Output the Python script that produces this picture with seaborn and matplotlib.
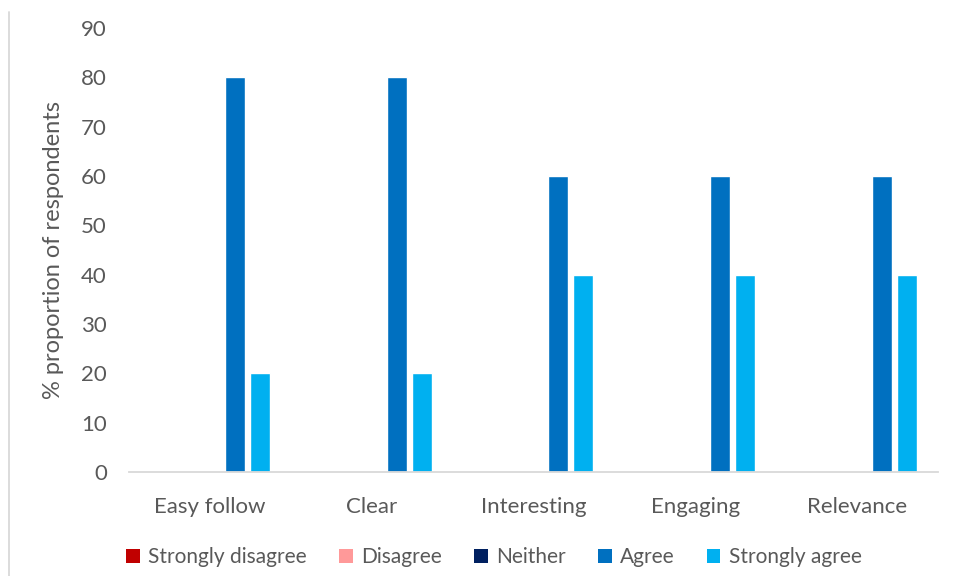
import matplotlib
matplotlib.use("Agg")
import matplotlib.pyplot as plt
import seaborn as sns
import pandas as pd
from matplotlib.lines import Line2D
from matplotlib.patches import Patch

# Survey responses per statement (% of respondents)
categories = ["Easy follow", "Clear", "Interesting", "Engaging", "Relevance"]
responses = ["Strongly disagree", "Disagree", "Neither", "Agree", "Strongly agree"]
strongly_disagree = [0, 0, 0, 0, 0]
disagree = [0, 0, 0, 0, 0]
neither = [0, 0, 0, 0, 0]
agree = [80, 80, 60, 60, 60]
strongly_agree = [20, 20, 40, 40, 40]
y_ticks = [0, 10, 20, 30, 40, 50, 60, 70, 80, 90]

colors = ["#C00000", "#FF9999", "#002060", "#0070C0", "#00B0F0"]

series = [strongly_disagree, disagree, neither, agree, strongly_agree]
rows = []
for resp, vals in zip(responses, series):
    for cat, v in zip(categories, vals):
        rows.append({"category": cat, "response": resp, "value": v})
df = pd.DataFrame(rows)

sns.set_theme(style="white")
plt.rcParams["font.family"] = ["Lato", "DejaVu Sans"]

fig = plt.figure(figsize=(9.57, 5.76), dpi=100)
ax = fig.add_axes([129 / 957, 1 - 472 / 576, (938 - 129) / 957, (472 - 28) / 576])

sns.barplot(data=df, x="category", y="value", hue="response",
            order=categories, hue_order=responses, palette=colors,
            width=0.77, gap=0.2, saturation=1, errorbar=None, ax=ax,
            legend=False)

ax.set_ylim(0, 90)
ax.set_xlim(-0.5, len(categories) - 0.5)
ax.set_yticks(y_ticks)
ax.set_xlabel("")
ax.set_ylabel("% proportion of respondents", fontsize=17, color="#595959", labelpad=12)
ax.tick_params(axis="both", length=0, labelsize=16, colors="#595959")
ax.tick_params(axis="y", pad=16)
ax.tick_params(axis="x", pad=18)

for s in ["top", "right", "left"]:
    ax.spines[s].set_visible(False)
ax.spines["bottom"].set_color("#D9D9D9")
ax.spines["bottom"].set_linewidth(1.3)

handles = [Patch(facecolor=c, edgecolor="none") for c in colors]
fig.legend(handles, responses, loc="center", bbox_to_anchor=(494 / 957, 1 - 557 / 576),
           ncol=5, frameon=False, fontsize=15, handlelength=0.65, handleheight=0.65,
           handletextpad=0.4, columnspacing=1.55, labelcolor="#595959")

# chart-area border on the left
fig.add_artist(Line2D([9 / 957, 9 / 957], [0, 1 - 12 / 576], transform=fig.transFigure,
                      color="#D9D9D9", linewidth=1.3))

fig.savefig("out.png", dpi=100)
